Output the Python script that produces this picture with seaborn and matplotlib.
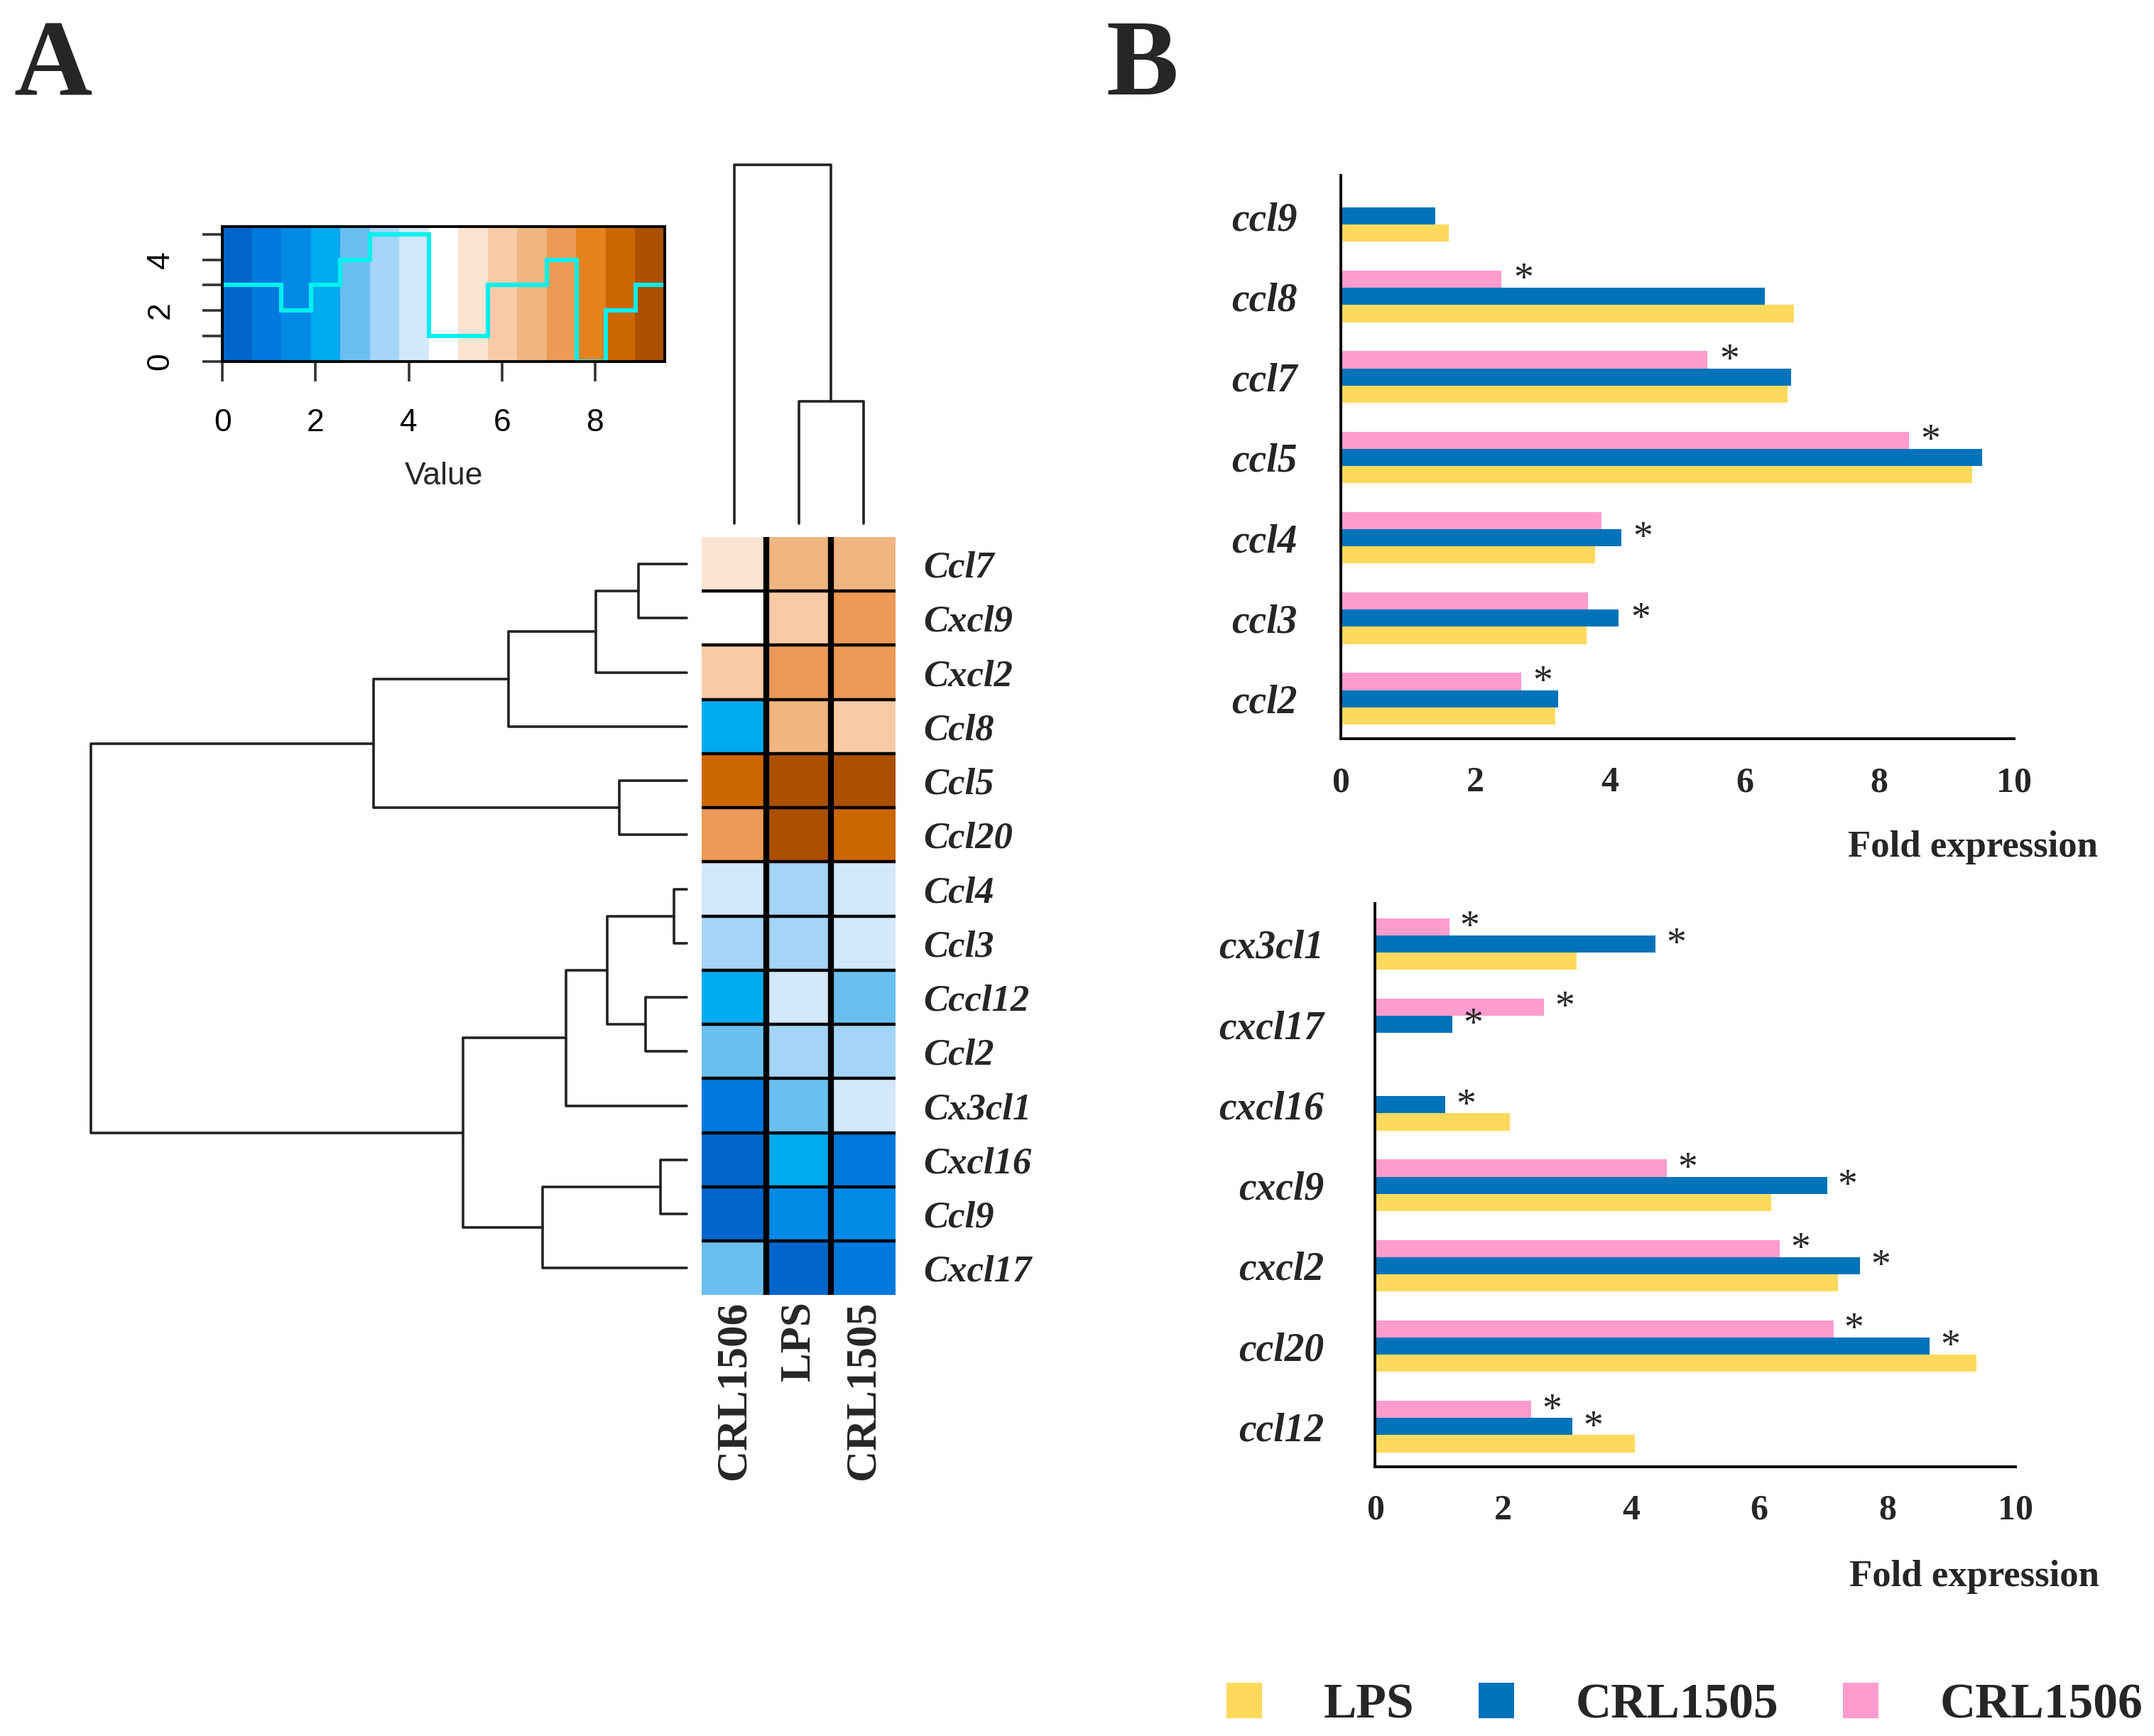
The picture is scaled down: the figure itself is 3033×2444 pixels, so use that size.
import numpy as np
import pandas as pd
import matplotlib
matplotlib.use('Agg')
import matplotlib.pyplot as plt
import seaborn as sns
from matplotlib.colors import ListedColormap
from matplotlib.patches import Patch

# ---------------- data ----------------
# panel A heatmap (row order as shown, columns CRL1506 / LPS / CRL1505)
hm_genes = ['Ccl7', 'Cxcl9', 'Cxcl2', 'Ccl8', 'Ccl5', 'Ccl20', 'Ccl4', 'Ccl3',
            'Cccl12', 'Ccl2', 'Cx3cl1', 'Cxcl16', 'Ccl9', 'Cxcl17']
hm_cols = ['CRL1506', 'LPS', 'CRL1505']
val_crl1506 = [5.4, 4.8, 6.0, 2.2, 8.5, 7.2, 4.1, 3.5, 2.2, 2.8, 0.9, 0.3, 0.4, 2.8]
val_lps     = [6.6, 6.0, 7.2, 6.6, 9.2, 9.4, 3.5, 3.4, 4.1, 3.5, 2.9, 2.3, 1.5, 0.5]
val_crl1505 = [6.7, 7.3, 7.3, 6.1, 9.3, 8.6, 4.0, 4.2, 2.9, 3.6, 4.1, 1.0, 1.6, 0.9]

# dendrogram merges: (child a, child b, height); leaves are 0..n-1, new nodes n, n+1, ...
row_merges = [(0, 1, 0.81), (14, 2, 1.53), (15, 3, 2.99), (4, 5, 1.13), (16, 17, 5.25),
              (6, 7, 0.22), (8, 9, 0.69), (19, 20, 1.34), (21, 10, 2.03),
              (11, 12, 0.44), (23, 13, 2.42), (22, 24, 3.75), (18, 25, 10.0)]
col_merges = [(1, 2, 3.4), (0, 3, 10.0)]

key_colors = ['#0066cc', '#0078dc', '#008ae6', '#00aaee', '#6bbff0', '#a4d4f6', '#d3e8fa',
              '#ffffff', '#fce4d3', '#f8cba6', '#f0b581', '#ec9a55', '#e8821e', '#cc6600', '#aa5000']
key_max = 9.5

# panel B bar charts
top_genes = ['ccl9', 'ccl8', 'ccl7', 'ccl5', 'ccl4', 'ccl3', 'ccl2']
top_lps = [1.61, 6.73, 6.64, 9.38, 3.78, 3.65, 3.19]
top_1505 = [1.40, 6.30, 6.69, 9.53, 4.17, 4.13, 3.23]
top_1506 = [np.nan, 2.39, 5.45, 8.44, 3.87, 3.67, 2.68]
top_sig_1505 = [False, False, False, False, True, True, False]
top_sig_1506 = [False, True, True, True, False, False, True]

bot_genes = ['cx3cl1', 'cxcl17', 'cxcl16', 'cxcl9', 'cxcl2', 'ccl20', 'ccl12']
bot_lps = [3.15, np.nan, 2.10, 6.19, 7.23, 9.39, 4.06]
bot_1505 = [4.38, 1.21, 1.10, 7.06, 7.58, 8.66, 3.08]
bot_1506 = [1.16, 2.64, np.nan, 4.56, 6.32, 7.16, 2.44]
bot_sig_1505 = [True, True, True, True, True, True, True]
bot_sig_1506 = [True, True, False, True, True, True, True]

groups = ['LPS', 'CRL1505', 'CRL1506']
group_colors = {'LPS': '#ffd95c', 'CRL1505': '#0073ba', 'CRL1506': '#ff9cce'}

# ---------------- style ----------------
sns.set_style('white')
plt.rcParams['font.family'] = ['Liberation Serif', 'DejaVu Serif']
SERIF = 'Liberation Serif'
SANS = 'Liberation Sans'

W, H = 1568.0, 1264.0  # layout grid used for placing axes


def rect(x0, y0, x1, y1):
    return [x0 / W, 1 - y1 / H, (x1 - x0) / W, (y1 - y0) / H]


fig = plt.figure(figsize=(15.165, 12.22), dpi=200)

# ---------------- panel A ----------------
hm_df = pd.DataFrame({'CRL1506': val_crl1506, 'LPS': val_lps, 'CRL1505': val_crl1505},
                     index=hm_genes)[hm_cols]
cmap = ListedColormap(key_colors)

ax_hm = fig.add_axes(rect(511, 391, 652, 943))
sns.heatmap(hm_df, cmap=cmap, vmin=0, vmax=key_max, cbar=False, ax=ax_hm,
            xticklabels=True, yticklabels=True)
ax_hm.hlines(np.arange(1, len(hm_genes)), 0, len(hm_cols), color='black', lw=1.6)
ax_hm.vlines(np.arange(1, len(hm_cols)), 0, len(hm_genes), color='black', lw=3.0)
ax_hm.yaxis.tick_right()
ax_hm.tick_params(axis='y', length=0, pad=14)
ax_hm.tick_params(axis='x', length=0, pad=3)
ax_hm.set_yticklabels(hm_genes, rotation=0, fontsize=19, fontweight='bold',
                      fontstyle='italic', family=SERIF)
ax_hm.set_xticklabels(hm_cols, rotation=90, fontsize=22, fontweight='bold', family=SERIF)
ax_hm.set_xlabel('')
ax_hm.set_ylabel('')


def draw_dendro(ax, merges, n, vertical):
    pos = {i: i + 0.5 for i in range(n)}
    hgt = {i: 0.0 for i in range(n)}
    for k, (a, b, h) in enumerate(merges):
        xs = [hgt[a], h, h, hgt[b]]
        ys = [pos[a], pos[a], pos[b], pos[b]]
        if vertical:
            ax.plot(ys, xs, color='#222222', lw=1.3, clip_on=False)
        else:
            ax.plot(xs, ys, color='#222222', lw=1.3, clip_on=False)
        pos[n + k] = (pos[a] + pos[b]) / 2
        hgt[n + k] = h


ax_rd = fig.add_axes(rect(66, 391, 500, 943))
draw_dendro(ax_rd, row_merges, len(hm_genes), vertical=False)
ax_rd.set_xlim(row_merges[-1][2], 0)
ax_rd.set_ylim(len(hm_genes), 0)
ax_rd.axis('off')

ax_cd = fig.add_axes(rect(511, 120, 652, 381))
draw_dendro(ax_cd, col_merges, len(hm_cols), vertical=True)
ax_cd.set_xlim(0, len(hm_cols))
ax_cd.set_ylim(0, col_merges[-1][2])
ax_cd.axis('off')

# colour key with histogram
edges = np.linspace(0, key_max, len(key_colors) + 1)
counts, _ = np.histogram(hm_df.values.ravel(), bins=edges)
ax_key = fig.add_axes(rect(162, 165, 484, 263))
ax_key.imshow(np.arange(len(key_colors))[None, :], cmap=cmap, aspect='auto',
              extent=[0, key_max, 0, 5.3], interpolation='nearest')
ax_key.stairs(counts, edges, baseline=None, color='#00f0f0', lw=2.2)
ax_key.set_xlim(0, key_max)
ax_key.set_ylim(0, 5.3)
ax_key.set_xticks([0, 2, 4, 6, 8])
ax_key.set_yticks([0, 1, 2, 3, 4, 5])
ax_key.set_yticklabels(['0', '', '2', '', '4', ''], rotation=90, va='center')
ax_key.tick_params(axis='both', direction='out', length=10, width=1.3, colors='#333333',
                   labelcolor='black', labelsize=16, pad=14, bottom=True, left=True)
for lab in ax_key.get_xticklabels() + ax_key.get_yticklabels():
    lab.set_family(SANS)
ax_key.set_xlabel('Value', family=SANS, fontsize=16, labelpad=12)
for sp in ax_key.spines.values():
    sp.set_color('black')
    sp.set_linewidth(1.4)

# ---------------- panel B ----------------
hue_order = ['CRL1506', 'CRL1505', 'LPS']
BAR_W = 0.64


def bar_panel(ax, genes, lps, c1505, c1506, sig1505, sig1506):
    df = pd.DataFrame({
        'gene': genes * 3,
        'group': ['LPS'] * len(genes) + ['CRL1505'] * len(genes) + ['CRL1506'] * len(genes),
        'value': list(lps) + list(c1505) + list(c1506),
    }).dropna()
    sns.barplot(data=df, x='value', y='gene', hue='group', order=genes, hue_order=hue_order,
                palette=group_colors, orient='h', width=BAR_W, saturation=1, linewidth=0,
                errorbar=None, legend=False, ax=ax)
    bh = BAR_W / len(hue_order)
    for j, (vals, sig) in enumerate([(c1506, sig1506), (c1505, sig1505)]):
        for i, (v, s) in enumerate(zip(vals, sig)):
            if s:
                ax.text(v + 0.32, i + (j - 1) * bh + 0.02, '*', ha='center', va='center',
                        fontsize=20, family=SERIF)
    ax.set_xlim(0, 10)
    ax.set_ylim(len(genes) - 0.5, -0.5)
    ax.set_xticks(range(0, 11, 2))
    ax.set_xlabel('')
    ax.set_ylabel('')
    sns.despine(ax=ax)
    for side in ['left', 'bottom']:
        ax.spines[side].set_color('black')
        ax.spines[side].set_linewidth(1.4)
    ax.tick_params(axis='x', length=0, pad=14, labelsize=18)
    ax.tick_params(axis='y', length=0, labelsize=20)
    for lab in ax.get_xticklabels():
        lab.set_fontweight('bold')
    for lab in ax.get_yticklabels():
        lab.set_fontweight('bold')
        lab.set_fontstyle('italic')


ax_top = fig.add_axes(rect(976, 128, 1466, 538))
bar_panel(ax_top, top_genes, top_lps, top_1505, top_1506, top_sig_1505, top_sig_1506)
ax_top.tick_params(axis='y', pad=22)

ax_bot = fig.add_axes(rect(1001, 658, 1467, 1068))
bar_panel(ax_bot, bot_genes, bot_lps, bot_1505, bot_1506, bot_sig_1505, bot_sig_1506)
ax_bot.tick_params(axis='y', pad=26)

fig.text(1527 / W, 1 - 617 / H, 'Fold expression', ha='right', va='center',
         fontsize=19, fontweight='bold')
fig.text(1528 / W, 1 - 1148 / H, 'Fold expression', ha='right', va='center',
         fontsize=19, fontweight='bold')

handles = [Patch(facecolor=group_colors[g], edgecolor='none') for g in groups]
fig.legend(handles, groups, loc='center left', bbox_to_anchor=(893 / W, 1 - 1242 / H),
           ncol=3, frameon=False, borderpad=0, borderaxespad=0,
           handlelength=0.72, handleheight=0.72, handletextpad=1.25, columnspacing=1.3,
           prop={'family': SERIF, 'weight': 'bold', 'size': 25})

# panel letters
fig.text(10 / W, 1 - 14 / H, 'A', ha='left', va='top', fontsize=55, fontweight='bold')
fig.text(805 / W, 1 - 14 / H, 'B', ha='left', va='top', fontsize=55, fontweight='bold')

fig.savefig('out.png', dpi=200)
